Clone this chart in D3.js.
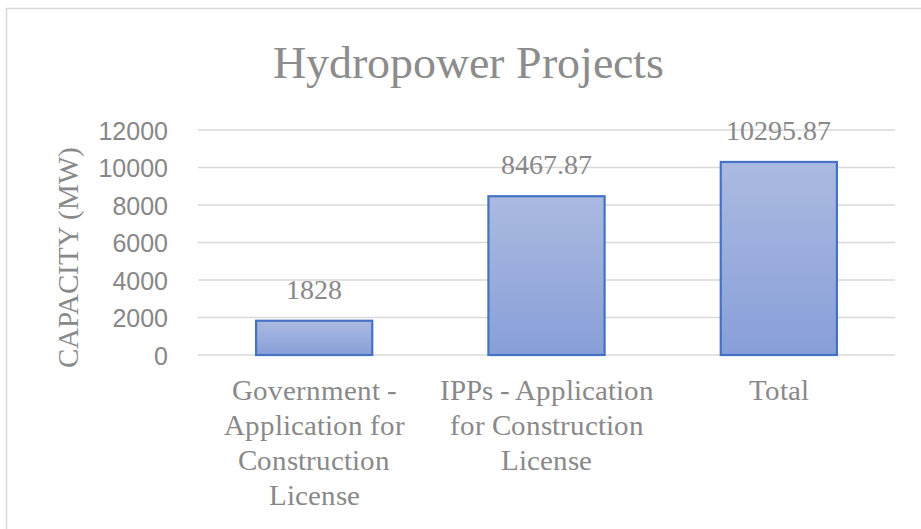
<!DOCTYPE html>
<html><head><meta charset="utf-8">
<script src="https://cdn.jsdelivr.net/npm/d3@7"></script>
<style>
@font-face{font-family:"ChartSerif";src:local("Liberation Serif"),local("LiberationSerif"),local("Liberation Serif Regular"),local("LiberationSerif-Regular"),local("Tinos");}
</style>
</head><body style="margin:0"><svg id="c" width="921" height="529"></svg>
<script>
const categories = [
  ["Government -", "Application for", "Construction", "License"],
  ["IPPs - Application", "for Construction", "License"],
  ["Total"]
];
const categoryNames = ["Government - Application for Construction License", "IPPs - Application for Construction License", "Total"];
const values = [1828, 8467.87, 10295.87];
const valueLabels = ["1828", "8467.87", "10295.87"];
const yTicks = [0, 2000, 4000, 6000, 8000, 10000, 12000];
const title = "Hydropower Projects";
const yTitle = "CAPACITY (MW)";

const svg = d3.select("#c");
const SERIF = '"ChartSerif", "Liberation Serif", "Tinos", serif';
const SANS = '"Liberation Sans"';
const textCol = "#898989";

// outer border
svg.append("rect").attr("x", 6.5).attr("y", 8.5).attr("width", 930).attr("height", 540)
  .attr("fill", "none").attr("stroke", "#d9d9d9").attr("stroke-width", 1.5);

const defs = svg.append("defs");
const g = defs.append("linearGradient").attr("id", "bg").attr("x1", 0).attr("y1", 0).attr("x2", 0).attr("y2", 1);
g.append("stop").attr("offset", "0%").attr("stop-color", "#abbae1");
g.append("stop").attr("offset", "100%").attr("stop-color", "#889fd8");

const x = d3.scaleBand().domain(categoryNames).range([198, 895]).paddingInner(0.5).paddingOuter(0.25);
const y = d3.scaleLinear().domain([0, 12000]).range([355, 130]);

// gridlines
svg.append("g").selectAll("line").data(yTicks).join("line")
  .attr("x1", 198).attr("x2", 895)
  .attr("y1", d => y(d)).attr("y2", d => y(d))
  .attr("stroke", "#d9d9d9").attr("stroke-width", 1.5);

// y axis labels
const ya = svg.append("g").attr("transform", "translate(168,0)")
  .call(d3.axisLeft(y).tickValues(yTicks).tickSize(0).tickPadding(0).tickFormat(d3.format("d")));
ya.select(".domain").remove();
ya.attr("font-family", null).attr("font-size", null);
ya.selectAll("text").style("font-family", SANS).style("font-size", "25px").attr("fill", "#878787").attr("dy", "0.36em");

// bars
svg.append("g").selectAll("rect").data(values).join("rect")
  .attr("x", (d, i) => x(categoryNames[i]))
  .attr("width", x.bandwidth())
  .attr("y", d => y(d))
  .attr("height", d => y(0) - y(d))
  .attr("fill", "url(#bg)")
  .attr("stroke", "#4472c4").attr("stroke-width", 2.2);

// value labels
svg.append("g").selectAll("text").data(values).join("text")
  .attr("x", (d, i) => x(categoryNames[i]) + x.bandwidth() / 2)
  .attr("y", d => y(d) - 22)
  .attr("text-anchor", "middle")
  .style("font-family", SERIF).style("font-size", "28px").attr("fill", textCol)
  .text((d, i) => valueLabels[i]);

// category labels
categories.forEach((lines, i) => {
  const cx = x(categoryNames[i]) + x.bandwidth() / 2;
  const t = svg.append("text")
    .attr("x", cx).attr("y", 400)
    .attr("text-anchor", "middle")
    .style("font-family", SERIF).style("font-size", "29px").attr("fill", textCol);
  lines.forEach((l, j) => t.append("tspan").attr("x", cx).attr("y", 400 + j * 35).text(l));
});

// title
svg.append("text").attr("x", 468).attr("y", 78).attr("text-anchor", "middle")
  .style("font-family", SERIF).style("font-size", "46px").attr("fill", "#8c8c8c").text(title);

// y title
svg.append("text").attr("transform", "translate(78,257) rotate(-90)").attr("text-anchor", "middle")
  .style("font-family", SERIF).style("font-size", "29px").attr("fill", textCol).text(yTitle);
</script></body></html>
